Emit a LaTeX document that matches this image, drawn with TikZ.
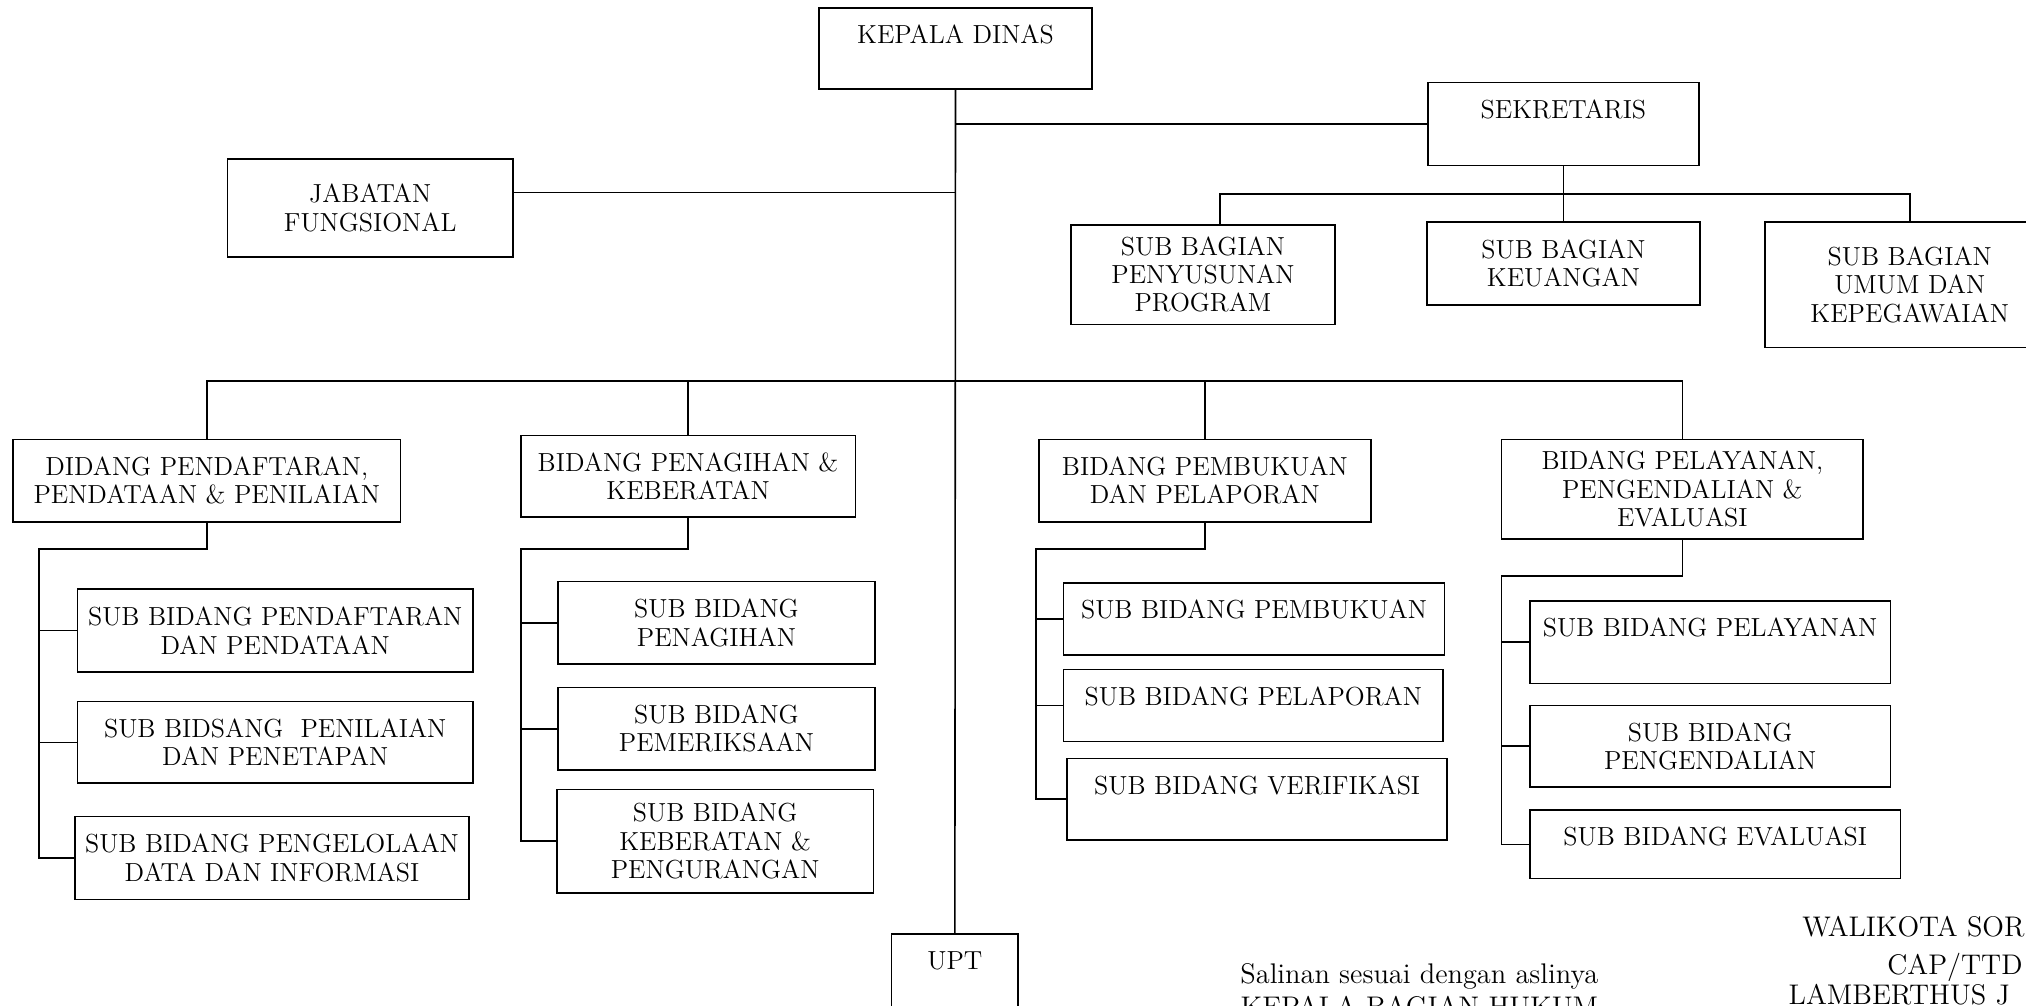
\documentclass[tikz,border=0pt]{standalone}
\newcommand{\orgfont}{\fontsize{11.5}{12.5}\selectfont}
\newcommand{\notefont}{\fontsize{12.5}{14}\selectfont}
\tikzstyle{box}=[rectangle,draw=black,line width=0.7pt,align=center,inner sep=1pt,font=\orgfont]
\tikzstyle{lbl}=[anchor=north,inner sep=0pt,yshift=-0.27cm,align=center,font=\orgfont]
\tikzstyle{ln}=[line width=0.7pt]
\tikzstyle{note}=[inner sep=0pt,font=\notefont]
\tikzset{tbox/.style={box,label={[lbl]north:#1}}}

\begin{document}
\begin{tikzpicture}
\useasboundingbox (0,0) rectangle (31.36,-15.57);
\clip (0,0) rectangle (31.36,-15.57);

% pimpinan dan sekretariat
\node[tbox={KEPALA DINAS},minimum width=4.22cm,minimum height=1.26cm] (kd) at (14.79,-0.75) {};
\node[tbox={SEKRETARIS},minimum width=4.20cm,minimum height=1.28cm] (sek) at (24.20,-1.92) {};
\node[box,minimum width=4.42cm,minimum height=1.52cm] (jf) at (5.73,-3.22) {JABATAN\\FUNGSIONAL};
\node[box,minimum width=4.08cm,minimum height=1.54cm] (sbp) at (18.62,-4.25) {SUB BAGIAN\\PENYUSUNAN\\PROGRAM};
\node[box,minimum width=4.22cm,minimum height=1.28cm] (sbk) at (24.20,-4.08) {SUB BAGIAN\\KEUANGAN};
\node[box,minimum width=4.48cm,minimum height=1.94cm] (sbu) at (29.56,-4.41) {SUB BAGIAN\\UMUM DAN\\KEPEGAWAIAN};

% bidang
\node[box,minimum width=6.00cm,minimum height=1.28cm] (bpd) at (3.20,-7.44) {DIDANG PENDAFTARAN,\\PENDATAAN \& PENILAIAN};
\node[box,minimum width=5.18cm,minimum height=1.26cm] (bpk) at (10.65,-7.37) {BIDANG PENAGIHAN \&\\KEBERATAN};
\node[box,minimum width=5.14cm,minimum height=1.28cm] (bpb) at (18.65,-7.44) {BIDANG PEMBUKUAN\\DAN PELAPORAN};
\node[box,minimum width=5.60cm,minimum height=1.54cm] (bpl) at (26.04,-7.57) {BIDANG PELAYANAN,\\PENGENDALIAN \&\\EVALUASI};

% sub bidang
\node[box,minimum width=6.12cm,minimum height=1.28cm] (s11) at (4.26,-9.76) {SUB BIDANG PENDAFTARAN\\DAN PENDATAAN};
\node[box,minimum width=6.12cm,minimum height=1.26cm] (s12) at (4.26,-11.49) {SUB BIDSANG~~PENILAIAN\\DAN PENETAPAN};
\node[box,minimum width=6.10cm,minimum height=1.28cm] (s13) at (4.21,-13.28) {SUB BIDANG PENGELOLAAN\\DATA DAN INFORMASI};
\node[box,minimum width=4.90cm,minimum height=1.28cm] (s21) at (11.09,-9.64) {SUB BIDANG\\PENAGIHAN};
\node[box,minimum width=4.90cm,minimum height=1.28cm] (s22) at (11.09,-11.28) {SUB BIDANG\\PEMERIKSAAN};
\node[box,minimum width=4.90cm,minimum height=1.60cm] (s23) at (11.07,-13.02) {SUB BIDANG\\KEBERATAN \&\\PENGURANGAN};
\node[tbox={SUB BIDANG PEMBUKUAN},minimum width=5.90cm,minimum height=1.12cm] (s31) at (19.41,-9.58) {};
\node[tbox={SUB BIDANG PELAPORAN},minimum width=5.88cm,minimum height=1.12cm] (s32) at (19.40,-10.92) {};
\node[tbox={SUB BIDANG VERIFIKASI},minimum width=5.88cm,minimum height=1.26cm] (s33) at (19.46,-12.37) {};
\node[tbox={SUB BIDANG PELAYANAN},minimum width=5.58cm,minimum height=1.28cm] (s41) at (26.47,-9.94) {};
\node[box,minimum width=5.58cm,minimum height=1.26cm] (s42) at (26.47,-11.55) {SUB BIDANG\\PENGENDALIAN};
\node[tbox={SUB BIDANG EVALUASI},minimum width=5.74cm,minimum height=1.06cm] (s43) at (26.55,-13.07) {};
\node[tbox={UPT},minimum width=1.96cm,minimum height=2.08cm] (upt) at (14.78,-15.50) {};

% pengesahan
\node[note,anchor=base] (sal) at (21.97,-15.22) {Salinan sesuai dengan aslinya};
\node[note,anchor=base] (kbh) at (21.97,-15.73) {KEPALA BAGIAN HUKUM};
\node[note,anchor=base west] (wal) at (27.89,-14.50) {WALIKOTA SOR};
\node[note,anchor=base] (cap) at (30.26,-15.08) {CAP/TTD};
\node[note,anchor=base west] (lam) at (27.68,-15.55) {LAMBERTHUS J};

% garis
\coordinate (sbus) at (24.20,-3.00);
\coordinate (bus) at (14.78,-5.90);
\coordinate (c1) at (0.60,-8.50);
\coordinate (c2) at (8.06,-8.50);
\coordinate (c3) at (16.04,-8.50);
\coordinate (c4) at (23.24,-8.92);
\draw[ln] (kd.south) -- (upt.north);
\draw[ln] (sek.west) -- (sek.west -| kd.south);
\draw[ln] ([yshift=0.24cm]jf.east) -- ([yshift=0.24cm]jf.east -| kd.south);
\draw[ln] (sek.south) -- (sbk.north);
\draw[ln] ([xshift=0.26cm]sbp.north) -- ([xshift=0.26cm]sbp.north |- sbus) -- (sbu.north |- sbus) -- (sbu.north);
\draw[ln] (bpd.north) -- (bpd.north |- bus) -- (bpl.north |- bus) -- (bpl.north);
\draw[ln] (bpk.north) -- (bpk.north |- bus);
\draw[ln] (bpb.north) -- (bpb.north |- bus);
\draw[ln] (bpd.south) |- (c1) |- (s13.west);
\draw[ln] (s11.west) -- (s11.west -| c1);
\draw[ln] (s12.west) -- (s12.west -| c1);
\draw[ln] (bpk.south) |- (c2) |- (s23.west);
\draw[ln] (s21.west) -- (s21.west -| c2);
\draw[ln] (s22.west) -- (s22.west -| c2);
\draw[ln] (bpb.south) |- (c3) |- (s33.west);
\draw[ln] (s31.west) -- (s31.west -| c3);
\draw[ln] (s32.west) -- (s32.west -| c3);
\draw[ln] (bpl.south) |- (c4) |- (s43.west);
\draw[ln] (s41.west) -- (s41.west -| c4);
\draw[ln] (s42.west) -- (s42.west -| c4);
\end{tikzpicture}
\end{document}
